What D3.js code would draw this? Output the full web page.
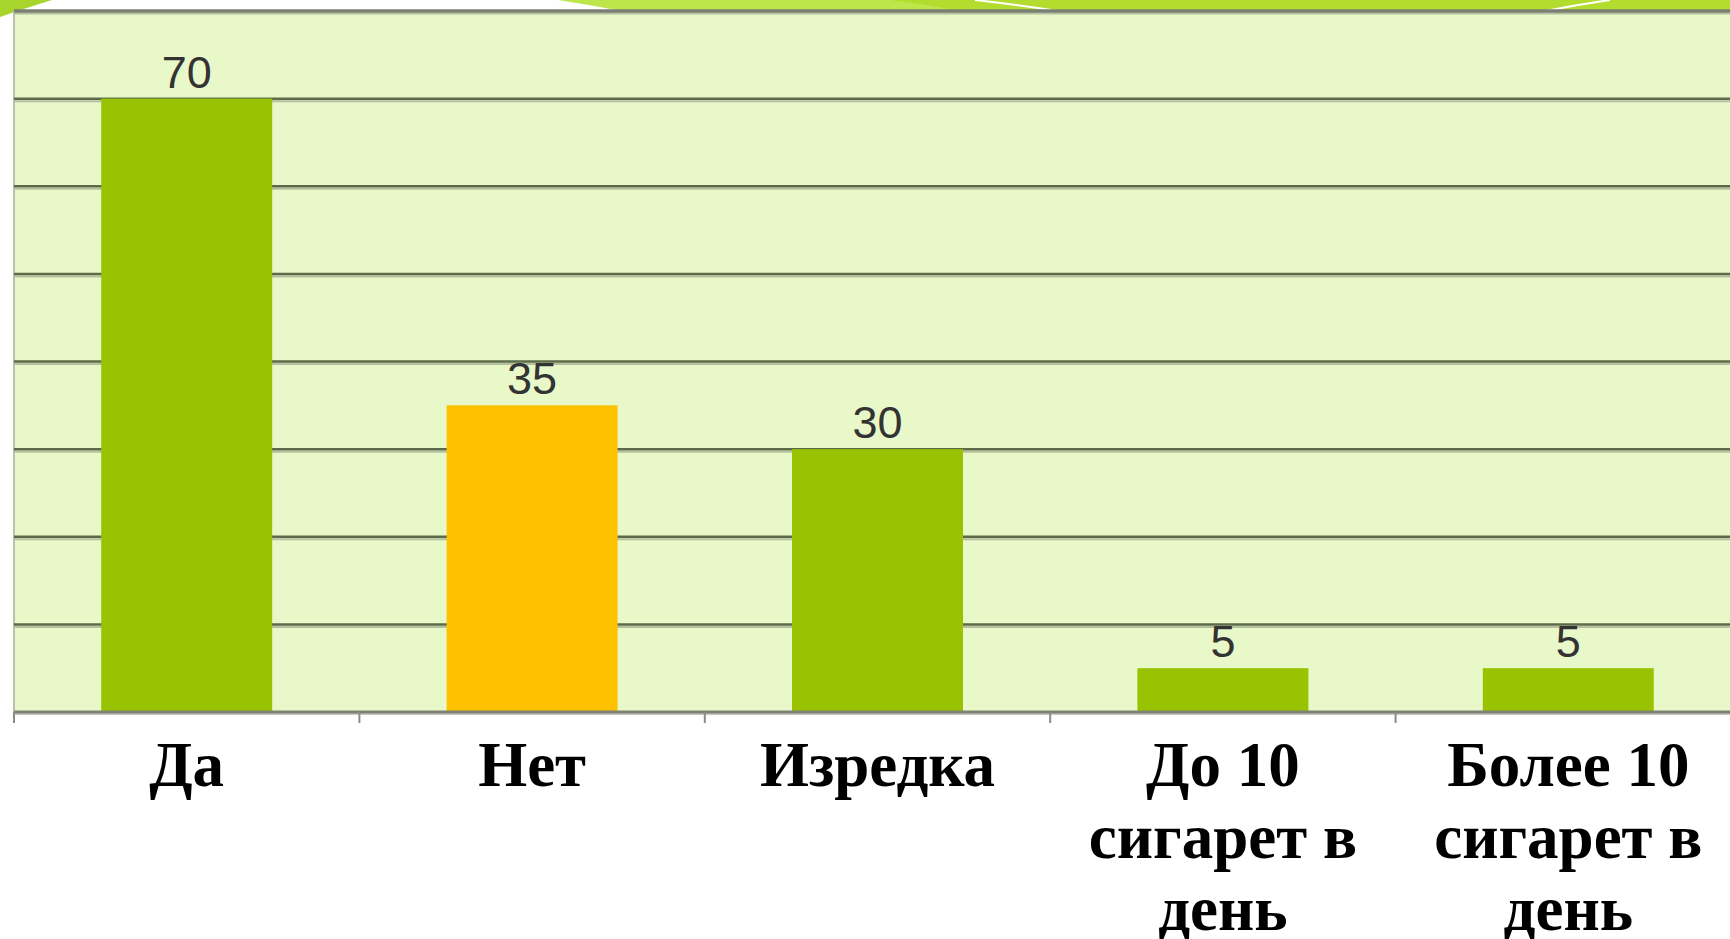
<!DOCTYPE html>
<html>
<head>
<meta charset="utf-8">
<script src="https://cdn.jsdelivr.net/npm/d3@7"></script>
<style>
    html, body { margin: 0; padding: 0; background: #ffffff; overflow: hidden; }
</style>
</head>
<body>
<div id="chart"></div>
<script>
// chart data
const categories = ['Да', 'Нет', 'Изредка', 'До 10 сигарет в день', 'Более 10 сигарет в день'];
const labelLines = [['Да'], ['Нет'], ['Изредка'], ['До 10', 'сигарет в', 'день'], ['Более 10', 'сигарет в', 'день']];
const values = [70, 35, 30, 5, 5];
const barColors = ['#99c300', '#ffc000', '#99c300', '#99c300', '#99c300'];
const gridTicks = [10, 20, 30, 40, 50, 60, 70, 80];

const width = 1730;
const height = 939;
const margin = { top: 11, left: 14, right: -11, bottom: 227 };
const innerW = width - margin.left - margin.right;
const innerH = height - margin.top - margin.bottom;

const svg = d3.select('#chart').append('svg')
    .attr('width', width)
    .attr('height', height);

// slide decoration along the top edge
const deco = svg.append('g');
deco.append('path')
    .attr('d', 'M0,0 L52,0 Q20,10 0,17 Z')
    .attr('fill', '#a8d52c');
deco.append('path')
    .attr('d', 'M558,0 L1730,0 L1730,11 L622,11 Q590,5 558,0 Z')
    .attr('fill', '#bde64a');
deco.append('path')
    .attr('d', 'M890,0 L1730,0 L1730,11 L960,11 Q925,4 890,0 Z')
    .attr('fill', '#b2dd2e');
deco.append('path')
    .attr('d', 'M975,0 Q1020,5 1065,12')
    .attr('fill', 'none').attr('stroke', '#ffffff').attr('stroke-width', 2);
deco.append('path')
    .attr('d', 'M1610,0 Q1575,5 1540,12')
    .attr('fill', 'none').attr('stroke', '#ffffff').attr('stroke-width', 2);

const chart = svg.append('g')
    .attr('transform', `translate(${margin.left}, ${margin.top})`);

const x = d3.scaleBand()
    .domain(categories)
    .range([0, innerW])
    .paddingInner(0.505)
    .paddingOuter(0.2525);

const y = d3.scaleLinear()
    .domain([0, 80])
    .range([innerH, 0]);

// plot area
chart.append('rect')
    .attr('width', innerW)
    .attr('height', innerH)
    .attr('fill', '#e9f8c8');

chart.append('line')
    .attr('x1', 0).attr('x2', 0)
    .attr('y1', 0).attr('y2', innerH)
    .attr('stroke', '#b9c2ad').attr('stroke-width', 2);

// gridlines with a soft shadow
const grid = chart.append('g');
grid.selectAll('line.shadow')
    .data(gridTicks)
    .join('line')
    .attr('class', 'shadow')
    .attr('x1', 0).attr('x2', innerW)
    .attr('y1', d => y(d) + 2.5).attr('y2', d => y(d) + 2.5)
    .attr('stroke', '#b4c09f').attr('stroke-width', 2);
grid.selectAll('line.main')
    .data(gridTicks)
    .join('line')
    .attr('class', 'main')
    .attr('x1', 0).attr('x2', innerW)
    .attr('y1', d => y(d)).attr('y2', d => y(d))
    .attr('stroke', d => d === 80 ? '#7a7f72' : '#5c6a4a')
    .attr('stroke-width', d => d === 80 ? 3.5 : 2.5);

// bars
chart.selectAll('rect.bar')
    .data(values)
    .join('rect')
    .attr('class', 'bar')
    .attr('x', (d, i) => x(categories[i]))
    .attr('y', d => y(d))
    .attr('width', x.bandwidth())
    .attr('height', d => innerH - y(d))
    .attr('fill', (d, i) => barColors[i]);

// value labels
chart.selectAll('text.value')
    .data(values)
    .join('text')
    .attr('class', 'value')
    .attr('x', (d, i) => x(categories[i]) + x.bandwidth() / 2)
    .attr('y', d => y(d) - 11)
    .attr('text-anchor', 'middle')
    .attr('font-family', '"Liberation Sans", Arial, sans-serif')
    .attr('font-size', 45)
    .attr('fill', '#333333')
    .text(d => d);

// x axis
const xAxis = chart.append('g')
    .attr('transform', `translate(0, ${innerH})`);
xAxis.append('line')
    .attr('x1', 0).attr('x2', innerW)
    .attr('y1', 2).attr('y2', 2)
    .attr('stroke', '#c6c9c0').attr('stroke-width', 2);
xAxis.append('line')
    .attr('x1', 0).attr('x2', innerW)
    .attr('stroke', '#7d8275').attr('stroke-width', 3);
xAxis.selectAll('line.tick')
    .data(categories)
    .join('line')
    .attr('class', 'tick')
    .attr('x1', d => x(d) - x.step() * 0.2525)
    .attr('x2', d => x(d) - x.step() * 0.2525)
    .attr('y1', 0).attr('y2', 11)
    .attr('stroke', '#8a8d84').attr('stroke-width', 2);

const labels = xAxis.selectAll('text.cat')
    .data(categories)
    .join('text')
    .attr('class', 'cat')
    .attr('text-anchor', 'middle')
    .attr('font-family', '"Liberation Serif", "Times New Roman", serif')
    .attr('font-weight', 'bold')
    .attr('font-size', 63)
    .attr('fill', '#000000');

labels.selectAll('tspan')
    .data((d, i) => labelLines[i].map(t => ({ t, c: d })))
    .join('tspan')
    .attr('x', d => x(d.c) + x.bandwidth() / 2)
    .attr('y', (d, j) => 74 + j * 72)
    .text(d => d.t);
</script>
</body>
</html>
